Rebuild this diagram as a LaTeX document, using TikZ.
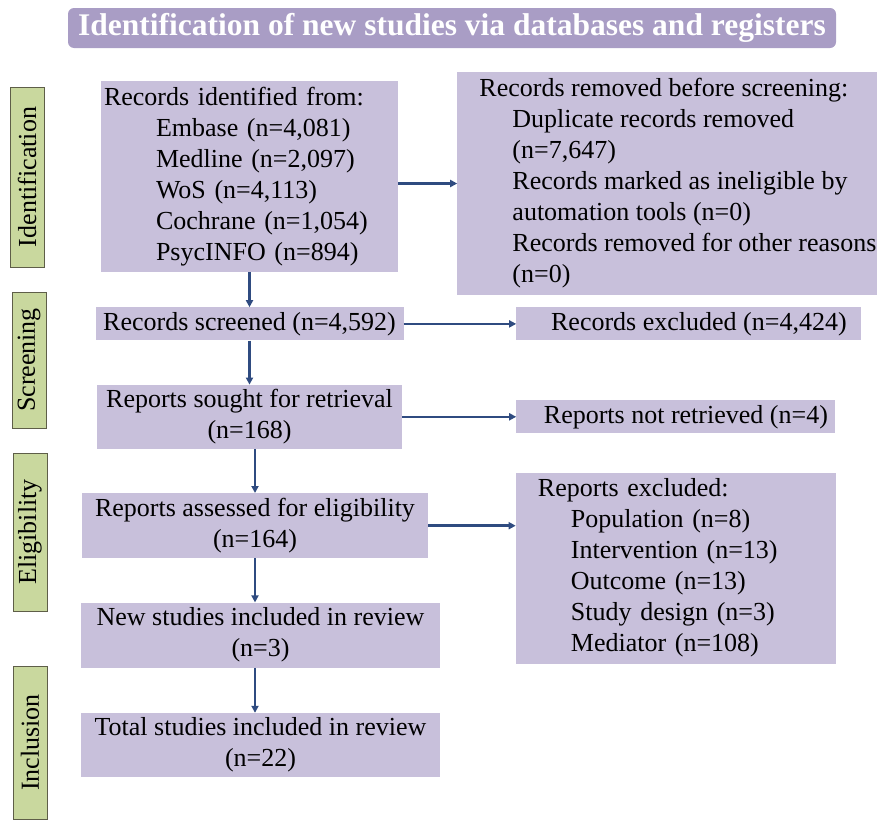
\documentclass[tikz,border=0pt]{standalone}
\usepackage{fontspec}
\setmainfont{Liberation Serif}
\usepackage{tikz}
\usetikzlibrary{positioning,arrows.meta}

\definecolor{boxlilac}{HTML}{C8C0DB}
\definecolor{titlelilac}{HTML}{A99DC5}
\definecolor{stagegreen}{HTML}{C9D89E}
\definecolor{stageedge}{HTML}{5E5E48}
\definecolor{arrownavy}{HTML}{2F4B80}

\begin{document}
\begin{tikzpicture}[x=1pt, y=1pt,
    block/.style={rectangle, fill=boxlilac, inner sep=0pt, align=center, font=\fontsize{26}{31}\selectfont},
    stage/.style={rectangle, draw=stageedge, line width=1pt, fill=stagegreen, rotate=90, minimum height=34pt, inner sep=0pt, font=\fontsize{26}{31}\selectfont},
    arr/.style={-{Triangle[length=7pt, width=7pt]}, line width=2.5pt, draw=arrownavy}]

    \useasboundingbox (0,0) rectangle (877,-819);

    % Title
    \node[rectangle, rounded corners=6pt, fill=titlelilac, text=white, minimum width=768pt, minimum height=40pt, inner sep=0pt, font=\fontsize{31.5}{36}\selectfont\bfseries] (title) at (452,-28) {Identification of new studies via databases and registers};

    % Stages
    \node[stage, minimum width=180pt] (identification) at (27,-177) {Identification};
    \node[stage, minimum width=136pt] (screening) at (29,-360) {Screening};
    \node[stage, minimum width=158pt] (eligibility) at (30,-532) {Eligibility};
    \node[stage, minimum width=153pt] (inclusion) at (30,-742.5) {Inclusion};

    % Left side - main flow
    \node[block, text width=297pt, minimum height=191pt, align=left] (ident) at (249.5,-176.5) {\hspace*{3pt}Records identified from:\\
        \hspace*{55pt}Embase (n=4,081)\\
        \hspace*{55pt}Medline (n=2,097)\\
        \hspace*{55pt}WoS (n=4,113)\\
        \hspace*{55pt}Cochrane (n=1,054)\\
        \hspace*{55pt}PsycINFO (n=894)};
    \node[block, below=35pt of ident, minimum width=308pt, minimum height=33pt] (screened) {Records screened (n=4,592)};
    \node[block, below=44pt of screened, minimum width=305pt, minimum height=64pt] (sought) {Reports sought for retrieval\\(n=168)};
    \node[block, below=44pt of sought, xshift=5.5pt, minimum width=346pt, minimum height=65pt] (assessed) {Reports assessed for eligibility\\(n=164)};
    \node[block, below=44pt of assessed, xshift=5.5pt, minimum width=359pt, minimum height=65pt] (newstudies) {New studies included in review\\(n=3)};
    \node[block, below=45pt of newstudies, minimum width=359pt, minimum height=64pt] (total) {Total studies included in review\\(n=22)};

    % Right side - exclusions
    \node[block, right=59pt of ident, yshift=-7pt, minimum width=420pt, minimum height=223pt, align=left] (removed) {\hspace*{21pt}Records removed before screening:\\
        \hspace*{54pt}Duplicate records removed\\
        \hspace*{54pt}(n=7,647)\\
        \hspace*{54pt}Records marked as ineligible by\\
        \hspace*{54pt}automation tools (n=0)\\
        \hspace*{54pt}Records removed for other reasons\\
        \hspace*{54pt}(n=0)};
    \node[block, right=112.5pt of screened, minimum width=345pt, minimum height=33pt] (excluded) {\hspace*{20pt}Records excluded (n=4,424)};
    \node[block, right=114pt of sought, minimum width=319pt, minimum height=33pt] (notretrieved) {\hspace*{20pt}Reports not retrieved (n=4)};
    \node[block, below=39pt of notretrieved, text width=320pt, minimum height=191pt, align=left] (repexcluded) {\hspace*{22pt}Reports excluded:\\
        \hspace*{55pt}Population (n=8)\\
        \hspace*{55pt}Intervention (n=13)\\
        \hspace*{55pt}Outcome (n=13)\\
        \hspace*{55pt}Study design (n=3)\\
        \hspace*{55pt}Mediator (n=108)};

    % Arrows
    \draw[arr] (ident) -- (ident |- screened.north);
    \draw[arr] (screened) -- (screened |- sought.north);
    \draw[arr] (assessed.north |- sought.south) -- (assessed.north);
    \draw[arr] (assessed.south) -- (assessed.south |- newstudies.north);
    \draw[arr] (assessed.south |- newstudies.south) -- (assessed.south |- total.north);
    \draw[arr] (ident.east |- removed.west) -- (removed.west);
    \draw[arr] (screened.east) -- (screened.east -| excluded.west);
    \draw[arr] (sought.east) -- (sought.east -| notretrieved.west);
    \draw[arr] (assessed.east) -- (assessed.east -| repexcluded.west);

\end{tikzpicture}
\end{document}
